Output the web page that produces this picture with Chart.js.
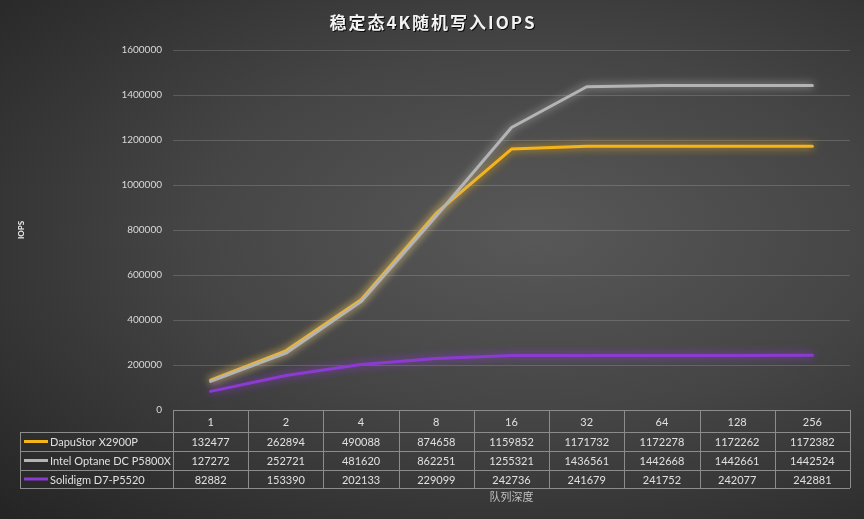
<!DOCTYPE html>
<html>
<head>
<meta charset="utf-8">
<script src="https://cdn.jsdelivr.net/npm/chart.js@4"></script>
<style>
  html, body { margin: 0; padding: 0; }
  body {
    width: 864px; height: 519px; overflow: hidden;
    background: radial-gradient(ellipse at 62% 45%, #585858 0%, #454545 45%, #242424 100%);
  }
  #wrap { position: relative; width: 864px; height: 519px; }
</style>
</head>
<body>
<div id="wrap"><canvas id="chart" width="864" height="519"></canvas></div>
<script>
const depths = ['1', '2', '4', '8', '16', '32', '64', '128', '256'];
const dapustor = [132477, 262894, 490088, 874658, 1159852, 1171732, 1172278, 1172262, 1172382];
const optane = [127272, 252721, 481620, 862251, 1255321, 1436561, 1442668, 1442661, 1442524];
const solidigm = [82882, 153390, 202133, 229099, 242736, 241679, 241752, 242077, 242881];
const seriesNames = ['DapuStor X2900P', 'Intel Optane DC P5800X', 'Solidigm D7-P5520'];
const seriesColors = ['#f6b419', '#b4b4b4', '#8c3bd0'];

const FONT = 'Lato, "Noto Sans CJK SC", sans-serif';

// glow under each line, like the office chart's soft shadow
const glowPlugin = {
  id: 'glow',
  beforeDatasetDraw(chart, args) {
    const ctx = chart.ctx;
    ctx.save();
    ctx.shadowColor = seriesColors[args.index];
    ctx.shadowBlur = 8;
  },
  afterDatasetDraw(chart) {
    chart.ctx.restore();
  }
};

// title, axis titles and the data table under the plot
const tablePlugin = {
  id: 'dataTable',
  afterDraw(chart) {
    const ctx = chart.ctx;
    const x = chart.scales.x;
    const area = chart.chartArea;
    const step = (area.right - area.left) / depths.length;
    const rows = [410, 432, 451, 470, 488];
    const legendLeft = 20;

    ctx.save();
    // title
    ctx.font = 'bold 17px "Noto Sans CJK SC", sans-serif';
    ctx.letterSpacing = '2px';
    ctx.textAlign = 'center';
    ctx.textBaseline = 'middle';
    ctx.fillStyle = 'rgba(0,0,0,0.85)';
    ctx.fillText('稳定态4K随机写入IOPS', 434, 24);
    ctx.fillStyle = '#f2f2f2';
    ctx.fillText('稳定态4K随机写入IOPS', 433, 23);
    ctx.letterSpacing = '0px';

    // grid of the table
    ctx.strokeStyle = '#8c8c8c';
    ctx.lineWidth = 1;
    ctx.beginPath();
    ctx.moveTo(area.left, rows[0] + 0.5);
    ctx.lineTo(area.right, rows[0] + 0.5);
    for (let r = 1; r < rows.length; r++) {
      ctx.moveTo(legendLeft, rows[r] + 0.5);
      ctx.lineTo(area.right, rows[r] + 0.5);
    }
    ctx.moveTo(legendLeft + 0.5, rows[1]);
    ctx.lineTo(legendLeft + 0.5, rows[4]);
    for (let i = 0; i <= depths.length; i++) {
      const px = Math.round(area.left + i * step) + 0.5;
      ctx.moveTo(px, rows[0]);
      ctx.lineTo(px, rows[4]);
    }
    ctx.stroke();

    // header row and values
    ctx.font = '11px ' + FONT;
    ctx.fillStyle = '#e0e0e0';
    ctx.textAlign = 'center';
    depths.forEach((d, i) => {
      ctx.fillText(d, x.getPixelForValue(i), (rows[0] + rows[1]) / 2 + 1);
    });
    [dapustor, optane, solidigm].forEach((vals, r) => {
      const cy = (rows[r + 1] + rows[r + 2]) / 2 + 1;
      vals.forEach((v, i) => {
        ctx.fillText(String(v), x.getPixelForValue(i), cy);
      });
      // legend key
      ctx.strokeStyle = seriesColors[r];
      ctx.lineWidth = 3;
      ctx.beginPath();
      ctx.moveTo(24, cy - 1);
      ctx.lineTo(48, cy - 1);
      ctx.stroke();
      ctx.textAlign = 'left';
      ctx.fillText(seriesNames[r], 50, cy);
      ctx.textAlign = 'center';
    });

    // x axis title
    ctx.fillStyle = '#c0c0c0';
    ctx.font = '11px "Noto Sans CJK SC", sans-serif';
    ctx.fillText('队列深度', (area.left + area.right) / 2, 497);

    // y axis title
    ctx.translate(21, 230);
    ctx.rotate(-Math.PI / 2);
    ctx.font = 'bold 8px ' + FONT;
    ctx.fillStyle = '#f2f2f2';
    ctx.fillText('IOPS', 0, 0);
    ctx.restore();
  }
};

new Chart(document.getElementById('chart'), {
  type: 'line',
  data: {
    labels: depths,
    datasets: [dapustor, optane, solidigm].map((vals, i) => ({
      label: seriesNames[i],
      data: vals,
      borderColor: seriesColors[i],
      backgroundColor: seriesColors[i],
      borderWidth: 3,
      pointRadius: 0,
      tension: 0,
      borderJoinStyle: 'round',
      borderCapStyle: 'round',
      order: 3 - i
    }))
  },
  options: {
    responsive: false,
    animation: false,
    layout: { padding: { top: 50, bottom: 109, left: 0, right: 14 } },
    plugins: {
      legend: { display: false },
      tooltip: { enabled: false },
      title: { display: false }
    },
    scales: {
      x: {
        display: false,
        offset: true
      },
      y: {
        min: 0,
        max: 1600000,
        ticks: {
          stepSize: 200000,
          color: '#d9d9d9',
          font: { family: FONT, size: 10 },
          padding: 11,
          callback: (v) => String(v)
        },
        grid: {
          color: 'rgba(255,255,255,0.16)',
          drawTicks: false
        },
        border: { display: false },
        afterFit(scale) { scale.width = 173; }
      }
    }
  },
  plugins: [glowPlugin, tablePlugin]
});
</script>
</body>
</html>
